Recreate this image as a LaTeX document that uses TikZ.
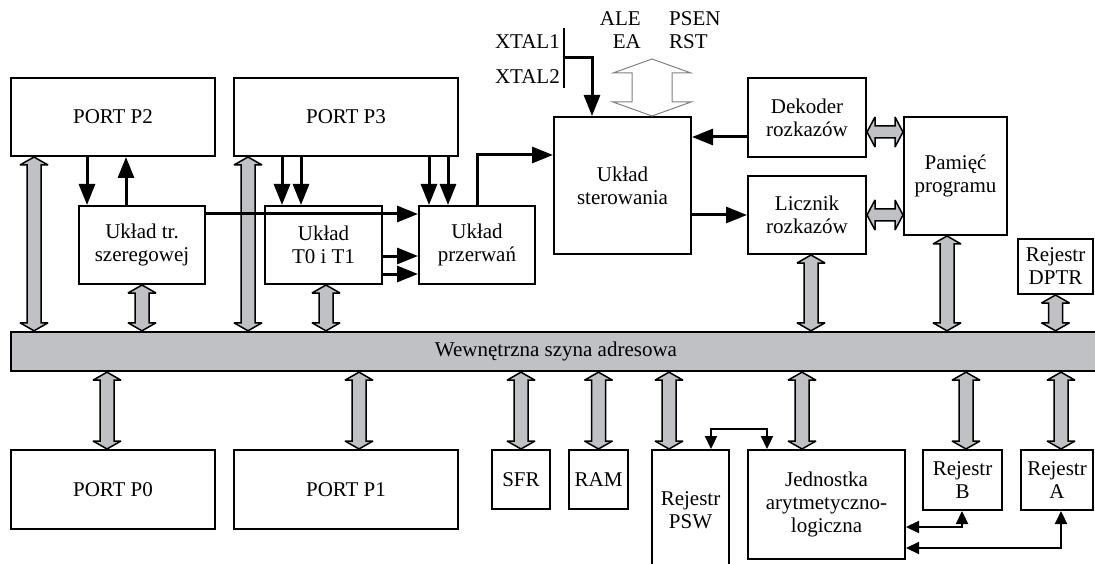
\documentclass[tikz,border=0pt]{standalone}
\usepackage{fontspec}
\setmainfont{Liberation Serif}
\usetikzlibrary{arrows.meta,calc}
\definecolor{busgray}{RGB}{192,193,197}

% wide grey bus arrow, vertical: x taken from #1, tips at the y of #2 and #3
\newcommand{\vbus}[3]{%
  \draw[bus] let \p1=(#1), \p2=(#2), \p3=(#3) in
    (\x1,\y2) -- (\x1+14pt,\y2-8pt) -- (\x1+7pt,\y2-8pt) -- (\x1+7pt,\y3+8pt)
    -- (\x1+14pt,\y3+8pt) -- (\x1,\y3) -- (\x1-14pt,\y3+8pt) -- (\x1-7pt,\y3+8pt)
    -- (\x1-7pt,\y2-8pt) -- (\x1-14pt,\y2-8pt) -- cycle;}
% the same, horizontal: y taken from #1, tips at the x of #1 and #2
\newcommand{\hbus}[2]{%
  \draw[bus] let \p1=(#1), \p2=(#2) in
    (\x1,\y1) -- (\x1+8pt,\y1+15pt) -- (\x1+8pt,\y1+6pt) -- (\x2-8pt,\y1+6pt)
    -- (\x2-8pt,\y1+15pt) -- (\x2,\y1) -- (\x2-8pt,\y1-15pt) -- (\x2-8pt,\y1-6pt)
    -- (\x1+8pt,\y1-6pt) -- (\x1+8pt,\y1-15pt) -- cycle;}

\begin{document}
\begin{tikzpicture}[x=1pt,y=-1pt,font=\fontsize{21}{23}\selectfont,
  blk/.style={draw,line width=2pt,inner sep=0pt,align=center},
  bus/.style={draw,line width=1.5pt,fill=busgray,miter limit=3},
  sig/.style={line width=3pt,-{Triangle[length=21pt,width=16pt]}},
  sig2/.style={line width=2.2pt,{Triangle[length=13pt,width=12pt]}-{Triangle[length=13pt,width=12pt]}},
  lbl/.style={inner sep=0pt}]
\useasboundingbox (0,0) rectangle (1095,564);

% blocks above the bus
\node[blk,minimum width=204pt,minimum height=78pt] (p2) at (113,117) {PORT P2};
\node[blk,minimum width=224pt,minimum height=78pt] (p3) at (346,117) {PORT P3};
\node[blk,minimum width=126pt,minimum height=78pt] (tr) at (142,245) {Układ tr.\\szeregowej};
\node[blk,minimum width=117pt,minimum height=78pt] (t0) at (323.5,245) {Układ\\T0 i T1};
\node[blk,minimum width=116pt,minimum height=78pt] (prz) at (477,245) {Układ\\przerwań};
\node[blk,minimum width=137pt,minimum height=137pt] (ster) at (622.5,185.5) {Układ\\sterowania};
\node[blk,minimum width=118pt,minimum height=79pt] (dek) at (807,117.5) {Dekoder\\rozkazów};
\node[blk,minimum width=118pt,minimum height=78pt] (lic) at (807,215) {Licznik\\rozkazów};
\node[blk,minimum width=103pt,minimum height=118pt] (pam) at (955.5,176) {Pamięć\\programu};
\node[blk,minimum width=75pt,minimum height=55pt] (dptr) at (1055.5,266.5) {Rejestr\\DPTR};

% the bus
\node[blk,line width=2.4pt,fill=busgray,minimum width=1090pt,minimum height=39pt] (bus) at (556,351.5) {Wewnętrzna szyna adresowa};

% blocks below the bus
\node[blk,minimum width=204pt,minimum height=79pt] (p0) at (113,489.5) {PORT P0};
\node[blk,minimum width=224pt,minimum height=79pt] (p1) at (346,489.5) {PORT P1};
\node[blk,minimum width=58pt,minimum height=59pt] (sfr) at (521,479.5) {SFR};
\node[blk,minimum width=59pt,minimum height=59pt] (ram) at (598.5,479.5) {RAM};
\node[blk,minimum width=77pt,minimum height=120pt] (psw) at (690.5,510) {Rejestr\\PSW};
\node[blk,minimum width=157pt,minimum height=109pt] (alu) at (826.5,504.5) {Jednostka\\arytmetyczno-\\logiczna};
\node[blk,minimum width=79pt,minimum height=60pt] (rb) at (962.5,480) {Rejestr\\B};
\node[blk,minimum width=72pt,minimum height=60pt] (ra) at (1057,480) {Rejestr\\A};

% control pins
\node[lbl,anchor=base east] (xtal1) at (560,49) {XTAL1};
\node[lbl,anchor=base east] (xtal2) at (560,84) {XTAL2};
\node[lbl,anchor=base east] (ale) at (641,26) {ALE};
\node[lbl,anchor=base east] (ea) at (641,49) {EA};
\node[lbl,anchor=base west] (psen) at (669,26) {PSEN};
\node[lbl,anchor=base west] (rst) at (669,49) {RST};

% bus arrows
\vbus{$(p2.south west)+(24,0)$}{p2.south}{bus.north}
\vbus{tr.south}{tr.south}{bus.north}
\vbus{$(p3.south west)+(15,0)$}{p3.south}{bus.north}
\vbus{$(t0.south west)+(62,0)$}{t0.south}{bus.north}
\vbus{$(lic.south west)+(64,0)$}{lic.south}{bus.north}
\vbus{$(pam.south west)+(44,0)$}{pam.south}{bus.north}
\vbus{dptr.south}{dptr.south}{bus.north}
\vbus{$(p0.north west)+(97,0)$}{bus.south}{p0.north}
\vbus{$(p1.north west)+(126,0)$}{bus.south}{p1.north}
\vbus{sfr.north}{bus.south}{sfr.north}
\vbus{ram.north}{bus.south}{ram.north}
\vbus{$(psw.north west)+(18,0)$}{bus.south}{psw.north}
\vbus{$(alu.north west)+(55,0)$}{bus.south}{alu.north}
\vbus{$(rb.north west)+(44,0)$}{bus.south}{rb.north}
\vbus{$(ra.north west)+(41,0)$}{bus.south}{ra.north}
\hbus{$(dek.east)+(0,14.5)$}{pam.west}
\hbus{lic.east}{pam.west}

% hollow arrow of the control pins
\coordinate (pins) at (652,59);
\draw[gray,line width=1pt,fill=white] let \p1=(pins), \p2=(pins |- ster.north) in
  (\x1,\y1) -- (\x1+39pt,\y1-14pt) -- (\x1+20pt,\y1-14pt) -- (\x1+20pt,\y2+14pt)
  -- (\x1+39pt,\y2+14pt) -- (\x1,\y2) -- (\x1-39pt,\y2+14pt) -- (\x1-20pt,\y2+14pt)
  -- (\x1-20pt,\y1-14pt) -- (\x1-39pt,\y1-14pt) -- cycle;

% signal lines
\coordinate (trin) at ($(tr.north west)+(9,0)$);
\coordinate (trout) at ($(tr.north west)+(48,0)$);
\draw[sig] (p2.south -| trin) -- (trin);
\draw[sig] (trout) -- (p2.south -| trout);
\coordinate (t0a) at ($(t0.north west)+(18,0)$);
\coordinate (t0b) at ($(t0.north west)+(37,0)$);
\draw[sig] (p3.south -| t0a) -- (t0a);
\draw[sig] (p3.south -| t0b) -- (t0b);
\coordinate (prza) at ($(prz.north west)+(11,0)$);
\coordinate (przb) at ($(prz.north west)+(30,0)$);
\draw[sig] (p3.south -| prza) -- (prza);
\draw[sig] (p3.south -| przb) -- (przb);
\coordinate (trx) at ($(tr.north east)+(0,9)$);
\draw[sig] (trx) -- (trx -| prz.west);
\coordinate (t0x) at ($(t0.north east)+(0,51)$);
\coordinate (t0y) at ($(t0.north east)+(0,69)$);
\draw[sig] (t0x) -- (t0x -| prz.west);
\draw[sig] (t0y) -- (t0y -| prz.west);
\coordinate (sterin) at ($(ster.north west)+(0,39)$);
\draw[sig] (prz.north) |- (sterin);
\coordinate (xt1) at (564,28);
\coordinate (xt2) at (564,88);
\coordinate (xtal) at (564,58);
\coordinate (sterx) at ($(ster.north west)+(39,0)$);
\draw[line width=2.3pt] (xt1) -- (xt2);
\draw[sig] (xtal) -| (sterx);
\coordinate (dekout) at ($(dek.west)+(0,19.5)$);
\draw[sig] (dekout) -- (dekout -| ster.east);
\draw[sig] (lic.west -| ster.east) -- (lic.west);

% links of the arithmetic unit
\coordinate (pswx) at ($(psw.north west)+(60,0)$);
\coordinate (alux) at ($(alu.north west)+(20,0)$);
\draw[sig2] (pswx) -- ++(0,-20) -| (alux);
\coordinate (alub) at ($(alu.north east)+(0,78)$);
\coordinate (bx) at ($(rb.south west)+(40,0)$);
\draw[sig2] (alub) -| (bx);
\coordinate (alua) at ($(alu.north east)+(0,99)$);
\coordinate (ax) at ($(ra.south west)+(41,0)$);
\draw[sig2] (alua) -| (ax);
\end{tikzpicture}
\end{document}
